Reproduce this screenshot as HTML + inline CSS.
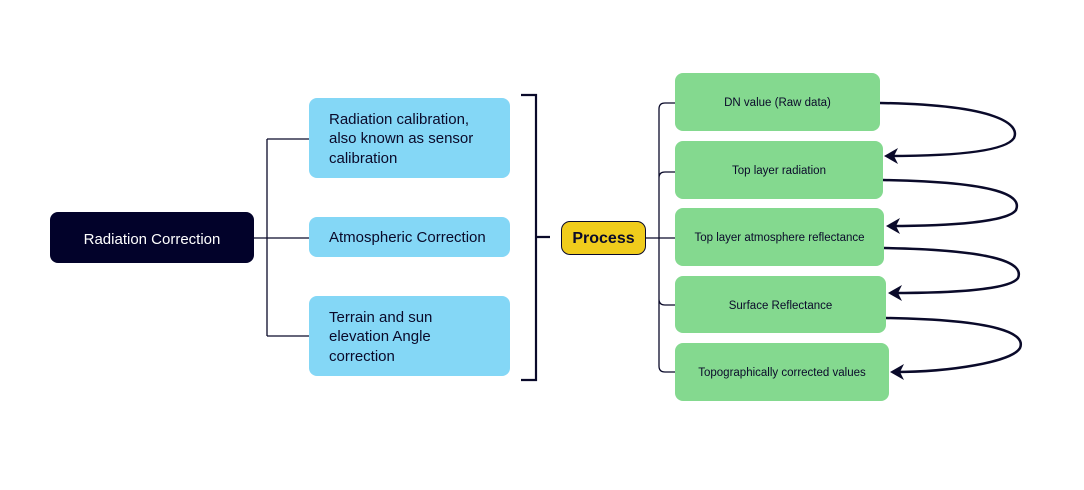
<!DOCTYPE html>
<html><head><style>
body{margin:0;background:#fff;width:1084px;height:490px;overflow:hidden;position:relative;font-family:"Liberation Sans",sans-serif;color:#0a0a2a}
.b{position:absolute;box-sizing:border-box;border-radius:8px;display:flex;align-items:center}
.blue{background:#84d7f6;padding-left:20px;padding-top:2px;font-size:15px;line-height:19.5px}
.g{background:#84d98f;justify-content:center;font-size:11.5px;padding-top:2px}
</style></head><body>
<svg width="1084" height="490" style="position:absolute;left:0;top:0">
<g fill="none" stroke="#0a0a2a" stroke-width="1.3">
<path d="M254 238H309M267 139V336M267 139H309M267 336H309"/>
<path d="M521 95H536V380H521M536 237H550" stroke-width="2.2"/>
<path d="M646 238H675M675 103H665Q659 103 659 109V366Q659 372 665 372H675M675 172H665Q659 172 659 178M659 299Q659 305 665 305H675"/>
</g>
<g fill="none" stroke="#0a0a2a" stroke-width="2.5">
<path d="M880 103C1000 105 1020 125 1014 138C1005 152 950 156 888 156"/>
<path d="M883 180C1000 182 1022 196 1016 210C1008 222 950 226 890 226"/>
<path d="M884 248C1000 250 1024 264 1018 278C1010 290 950 293 892 293"/>
<path d="M886 318C1000 320 1026 334 1020 348C1012 362 950 372 894 372"/>
</g>
<g fill="#0a0a2a">
<path d="M884 156L898 148L894 156L898 164Z"/>
<path d="M886 226L900 218L896 226L900 234Z"/>
<path d="M888 293L902 285L898 293L902 301Z"/>
<path d="M890 372L904 364L900 372L904 380Z"/>
</g>
</svg>
<div class="b" style="left:50px;top:212px;width:204px;height:51px;background:#02022a;color:#fff;justify-content:center;font-size:15px;padding-top:3px">Radiation Correction</div>
<div class="b blue" style="left:309px;top:98px;width:201px;height:80px">Radiation calibration,<br>also known as sensor<br>calibration</div>
<div class="b blue" style="left:309px;top:217px;width:201px;height:40px">Atmospheric Correction</div>
<div class="b blue" style="left:309px;top:296px;width:201px;height:80px">Terrain and sun<br>elevation Angle<br>correction</div>
<div class="b" style="left:561px;top:221px;width:85px;height:34px;background:#f0cc1c;border:1.3px solid #0a0a2a;justify-content:center;font-size:16px;font-weight:bold;border-radius:9px;padding-top:2px">Process</div>
<div class="b g" style="left:675px;top:73px;width:205px;height:58px">DN value (Raw data)</div>
<div class="b g" style="left:675px;top:141px;width:208px;height:58px">Top layer radiation</div>
<div class="b g" style="left:675px;top:208px;width:209px;height:58px">Top layer atmosphere reflectance</div>
<div class="b g" style="left:675px;top:276px;width:211px;height:57px">Surface Reflectance</div>
<div class="b g" style="left:675px;top:343px;width:214px;height:58px">Topographically corrected values</div>
</body></html>
